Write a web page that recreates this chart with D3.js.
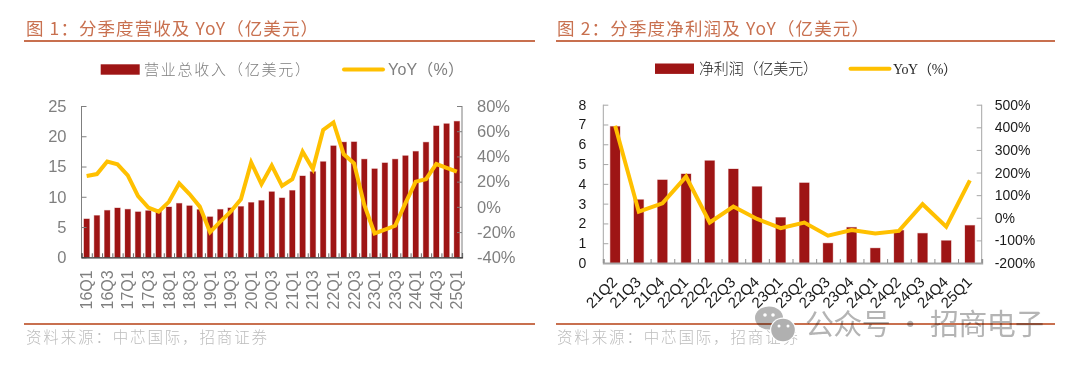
<!DOCTYPE html>
<html>
<head>
<meta charset="utf-8">
<script src="https://cdn.jsdelivr.net/npm/d3@7"></script>
<style>
  html, body { margin: 0; padding: 0; background: #fff; }
  svg { display: block; }
</style>
</head>
<body>
<svg id="page" width="1078" height="367"></svg>
<script>
// Figure 1: quarterly revenue
const revQuarters = ['16Q1','16Q2','16Q3','16Q4','17Q1','17Q2','17Q3','17Q4','18Q1','18Q2','18Q3','18Q4',
    '19Q1','19Q2','19Q3','19Q4','20Q1','20Q2','20Q3','20Q4','21Q1','21Q2','21Q3','21Q4',
    '22Q1','22Q2','22Q3','22Q4','23Q1','23Q2','23Q3','23Q4','24Q1','24Q2','24Q3','24Q4','25Q1'];
const revValues = [6.34,6.9,7.75,8.15,7.93,7.51,7.7,7.87,8.31,8.91,8.51,7.88,
    6.69,7.91,8.16,8.39,9.05,9.38,10.83,9.81,11.04,13.44,14.15,15.8,
    18.42,19.03,19.07,16.21,14.62,15.6,16.21,16.78,17.5,19.01,21.71,22.07,22.47];
const revYoy = [24.5,26,36,33.7,25,8.6,-0.6,-3.8,4,18.7,10.2,0.2,
    -20,-11.7,-3.8,6,35.3,18,32.7,16.6,22,43.8,30,61,
    67,41.7,34.5,1.5,-21,-18,-15,3,20,22,34,31,28];
const revLeftTicks = [0,5,10,15,20,25];
const revRightTicks = [-40,-20,0,20,40,60,80];

// Figure 2: quarterly net profit
const profitQuarters = ['21Q2','21Q3','21Q4','22Q1','22Q2','22Q3','22Q4','23Q1',
    '23Q2','23Q3','23Q4','24Q1','24Q2','24Q3','24Q4','25Q1'];
const profitValues = [6.9,3.2,4.2,4.5,5.17,4.75,3.86,2.3,4.05,1.0,1.8,0.75,1.65,1.5,1.13,1.9];
const profitYoy = [407,27,64,182,-21,49.5,-5,-46,-21,-79,-54,-69,-58,60,-39,165];
const profitLeftTicks = [0,1,2,3,4,5,6,7,8];
const profitRightTicks = [-200,-100,0,100,200,300,400,500];

const RED = '#9e1515', GOLD = '#ffc000', RUST = '#c8704f';
const svg = d3.select('#page');

/**
 * Draws one combo panel: bars on the left axis, YoY line on the right axis
 */
function drawPanel(c) {
    const g = svg.append('g');

    const x = d3.scaleBand().domain(c.quarters).range([c.left, c.right])
        .paddingInner(c.barPadding).paddingOuter(c.barPadding / 2);
    const yL = d3.scaleLinear().domain(d3.extent(c.leftTicks)).range([c.bottom, c.top]);
    const yR = d3.scaleLinear().domain(d3.extent(c.rightTicks)).range([c.bottom, c.top]);
    const xEdges = d3.scaleLinear().domain([0, c.quarters.length]).range([c.left, c.right]);

    // Bars
    g.selectAll('.bar')
        .data(c.quarters)
        .join('rect')
        .attr('class', 'bar')
        .attr('x', d => x(d))
        .attr('width', x.bandwidth())
        .attr('y', (d, i) => yL(c.values[i]))
        .attr('height', (d, i) => yL(0) - yL(c.values[i]))
        .attr('fill', RED)
        .attr('stroke', 'rgba(158,21,21,0.3)')
        .attr('stroke-width', 1);

    // Side axes, ticks pointing inwards
    const leftAxis = g.append('g')
        .attr('transform', `translate(${c.left},0)`)
        .call(d3.axisLeft(yL).tickValues(c.leftTicks).tickSize(-5).tickPadding(c.leftPad).tickFormat(d3.format('d')));
    const rightAxis = g.append('g')
        .attr('transform', `translate(${c.right},0)`)
        .call(d3.axisRight(yR).tickValues(c.rightTicks).tickSize(-5).tickPadding(c.rightPad).tickFormat(d => d + '%'));
    [leftAxis, rightAxis].forEach(a => {
        a.select('.domain').remove();
        a.selectAll('line').attr('stroke', c.sideAxisColor);
        a.selectAll('text')
            .attr('fill', c.labelColor)
            .style('font-family', '"Liberation Sans", Arial, sans-serif')
            .style('font-size', c.tickFont + 'px');
    });
    [c.left, c.right].forEach(px => {
        g.append('line').attr('x1', px).attr('x2', px).attr('y1', c.top).attr('y2', c.bottom)
            .attr('stroke', c.sideAxisColor);
    });

    // Small ticks on the band edges
    g.append('g')
        .attr('transform', `translate(0,${c.bottom})`)
        .call(d3.axisBottom(xEdges).tickValues(d3.range(c.quarters.length + 1)).tickSize(-4).tickFormat(''))
        .call(a => a.select('.domain').attr('stroke', c.baseColor).attr('stroke-width', c.baseWidth))
        .selectAll('line').attr('stroke', c.tickColor);

    // Category labels
    const labelAxis = g.append('g')
        .attr('transform', `translate(0,${c.bottom})`)
        .call(d3.axisBottom(x).tickSize(0).tickValues(c.quarters.filter((d, i) => i % c.labelEvery === 0)));
    labelAxis.select('.domain').remove();
    labelAxis.selectAll('text')
        .attr('fill', c.labelColor)
        .style('font-family', '"Liberation Sans", Arial, sans-serif')
        .style('font-size', c.xFont + 'px')
        .style('text-anchor', 'end')
        .attr('x', c.labelX)
        .attr('y', c.labelY)
        .attr('dy', '0.35em')
        .attr('transform', `rotate(${c.labelAngle})`);

    // YoY line
    const line = d3.line()
        .x((d, i) => x(c.quarters[i]) + x.bandwidth() / 2)
        .y(d => yR(d));
    g.append('path')
        .datum(c.yoy)
        .attr('d', line)
        .attr('fill', 'none')
        .attr('stroke', GOLD)
        .attr('stroke-width', 4)
        .attr('stroke-linejoin', 'miter');

    // Header and footer
    g.append('text').text(c.title)
        .attr('x', c.titleX).attr('y', 35)
        .attr('fill', RUST)
        .style('font-family', '"Noto Sans CJK SC", sans-serif')
        .style('font-size', '17.5px')
        .attr('textLength', c.titleLen)
        .attr('lengthAdjust', 'spacing');
    [41, 324].forEach(ry => {
        g.append('line').attr('x1', c.ruleX1).attr('x2', c.ruleX2).attr('y1', ry).attr('y2', ry)
            .attr('stroke', RUST).attr('stroke-width', 2);
    });
    g.append('text').text('资料来源：中芯国际，招商证券')
        .attr('x', c.titleX).attr('y', 343)
        .attr('fill', '#bdbdbd')
        .style('font-family', '"Noto Sans CJK SC", sans-serif')
        .style('font-weight', 300)
        .style('font-size', '15.5px')
        .attr('textLength', 241)
        .attr('lengthAdjust', 'spacing');

    // Legend
    const lg = c.legend;
    g.append('rect').attr('x', lg.rectX).attr('y', lg.y - 5.2).attr('width', 39).attr('height', 10.4).attr('fill', RED);
    g.append('text').text(lg.barLabel)
        .attr('x', lg.barTextX).attr('y', lg.y + 5.5)
        .attr('fill', c.legendColor)
        .style('font-family', '"Noto Sans CJK SC", sans-serif')
        .style('font-weight', 300)
        .style('font-size', '15px')
        .attr('textLength', lg.barTextLen)
        .attr('lengthAdjust', 'spacing');
    g.append('line').attr('x1', lg.lineX).attr('x2', lg.lineX + 39).attr('y1', lg.y).attr('y2', lg.y)
        .attr('stroke', GOLD).attr('stroke-width', 4).attr('stroke-linecap', 'round');
    g.append('text').text(lg.lineLabel)
        .attr('x', lg.lineTextX).attr('y', lg.y + 5.5)
        .attr('fill', c.legendColor)
        .style('font-family', lg.lineFont)
        .style('font-size', lg.lineFontSize + 'px')
        .attr('textLength', lg.lineTextLen)
        .attr('lengthAdjust', 'spacing');
}

drawPanel({
    quarters: revQuarters, values: revValues, yoy: revYoy,
    leftTicks: revLeftTicks, rightTicks: revRightTicks,
    left: 81.5, right: 462, top: 106, bottom: 257.3, barPadding: 0.47,
    leftPad: 15, rightPad: 15, tickFont: 16.5, xFont: 16,
    labelEvery: 2, labelAngle: -90, labelX: -13, labelY: 0,
    labelColor: '#7f7f7f', sideAxisColor: '#7f7f7f', baseColor: '#333', baseWidth: 1.2, tickColor: '#666',
    legendColor: '#7f7f7f',
    title: '图 1：分季度营收及 YoY（亿美元）', titleX: 26, titleLen: 292,
    ruleX1: 24, ruleX2: 535,
    legend: { y: 69.5, rectX: 100.7, barLabel: '营业总收入（亿美元）', barTextX: 144, barTextLen: 166,
        lineX: 344, lineLabel: 'YoY（%）', lineTextX: 388, lineTextLen: 76,
        lineFont: '"Liberation Sans", "Noto Sans CJK SC", sans-serif', lineFontSize: 16 }
});

drawPanel({
    quarters: profitQuarters, values: profitValues, yoy: profitYoy,
    leftTicks: profitLeftTicks, rightTicks: profitRightTicks,
    left: 603.3, right: 981.7, top: 104.7, bottom: 263, barPadding: 0.59,
    leftPad: 17, rightPad: 13, tickFont: 14, xFont: 15,
    labelEvery: 1, labelAngle: -45, labelX: -12, labelY: 11,
    labelColor: '#1a1a1a', sideAxisColor: '#a6a6a6', baseColor: '#a6a6a6', baseWidth: 2, tickColor: '#8c8c8c',
    legendColor: '#262626',
    title: '图 2：分季度净利润及 YoY（亿美元）', titleX: 557, titleLen: 312,
    ruleX1: 556, ruleX2: 1055,
    legend: { y: 68.7, rectX: 655, barLabel: '净利润（亿美元）', barTextX: 699, barTextLen: 119,
        lineX: 850.5, lineLabel: 'YoY（%）', lineTextX: 893, lineTextLen: 64,
        lineFont: '"Liberation Serif", "Noto Sans CJK SC", serif', lineFontSize: 14 }
});

// Watermark over the second panel
const wm = svg.append('g').style('mix-blend-mode', 'multiply');
wm.append('ellipse').attr('cx', 769).attr('cy', 318).attr('rx', 14).attr('ry', 11.5).attr('fill', '#b5b5b5');
wm.append('circle').attr('cx', 765).attr('cy', 315).attr('r', 1.8).attr('fill', '#fff');
wm.append('circle').attr('cx', 773).attr('cy', 315).attr('r', 1.8).attr('fill', '#fff');
svg.append('ellipse').attr('cx', 783).attr('cy', 330).attr('rx', 13).attr('ry', 12.5).attr('fill', '#fff');
svg.append('ellipse').attr('cx', 783).attr('cy', 330).attr('rx', 11.8).attr('ry', 11.2).attr('fill', '#b0b0b0');
svg.append('circle').attr('cx', 779).attr('cy', 326).attr('r', 1.5).attr('fill', '#fff');
svg.append('circle').attr('cx', 788).attr('cy', 326).attr('r', 1.5).attr('fill', '#fff');
wm.append('text').text('公众号 · 招商电子')
    .attr('x', 805).attr('y', 335)
    .attr('fill', '#b4b4b4')
    .style('font-family', '"Noto Sans CJK SC", sans-serif')
    .style('font-size', '29px')
    .attr('textLength', 239)
    .attr('lengthAdjust', 'spacing');
</script>
</body>
</html>
